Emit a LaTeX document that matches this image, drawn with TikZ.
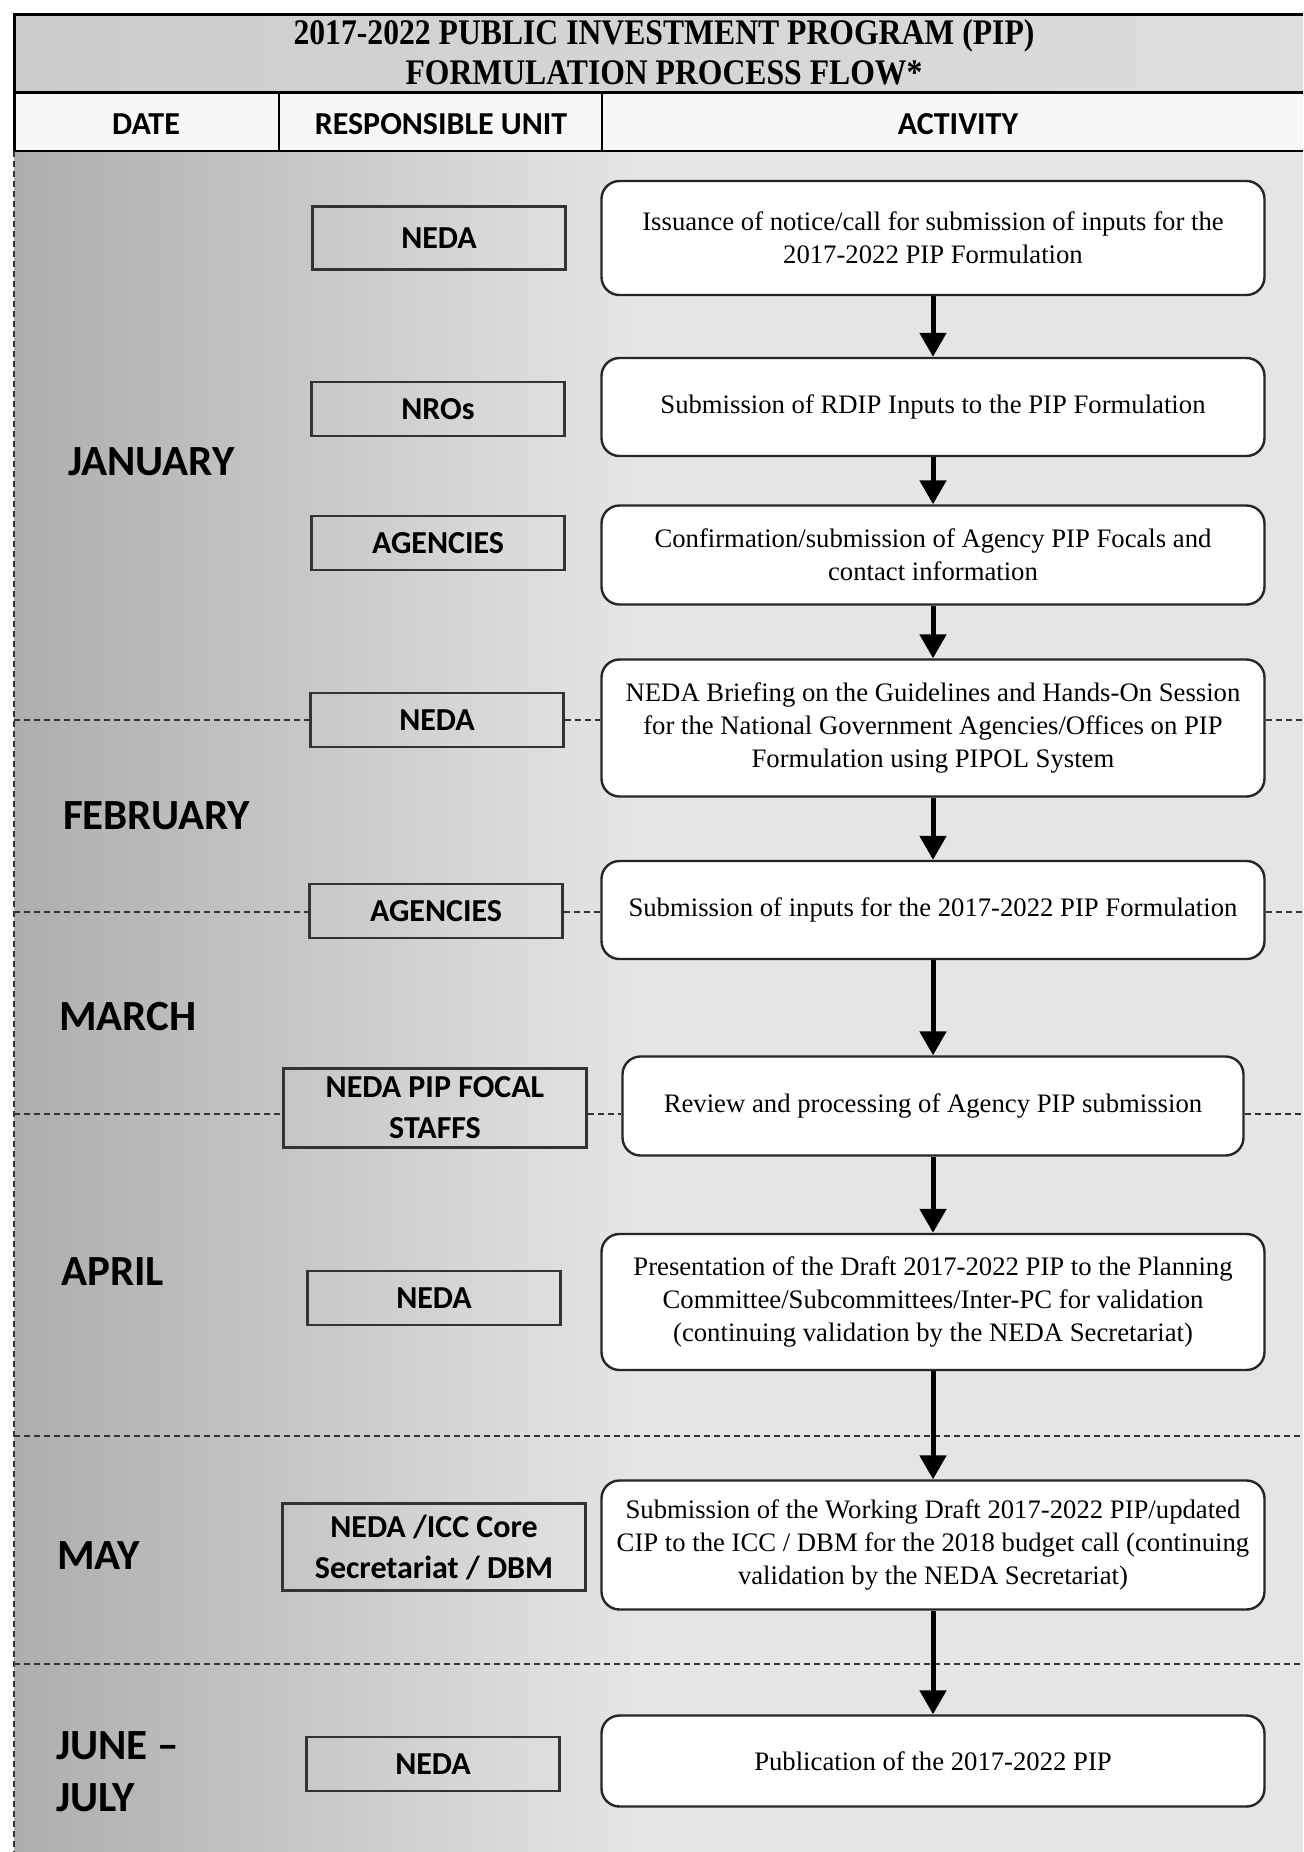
\documentclass[tikz,border=0pt]{standalone}
\usepackage{fontspec}
\setmainfont{Liberation Serif}
\newfontfamily\actfont{Liberation Serif}
\newfontfamily\labelfont{Carlito}
\newfontfamily\titlefont[FakeStretch=0.88]{Liberation Serif}
\usetikzlibrary{arrows.meta,positioning}

\tikzset{
  unitbox/.style={draw=black!80, line width=1.2pt, minimum width=126.5pt, minimum height=27pt,
    font=\labelfont\bfseries\fontsize{16}{20.5}\selectfont, align=center, inner sep=0pt},
  actbox/.style={draw=black!85, fill=white, rounded corners=9pt, line width=1.2pt,
    minimum width=331.5pt, font=\actfont\fontsize{13.35}{16.5}\selectfont, align=center, inner sep=2pt},
  month/.style={anchor=west, font=\labelfont\bfseries\fontsize{21.5}{26}\selectfont},
  colhead/.style={font=\labelfont\bfseries\fontsize{16}{19}\selectfont},
  flow/.style={line width=2.5pt, -{Triangle[width=13pt,length=12pt]}},
  sep/.style={dashed, dash pattern=on 3pt off 2pt, line width=0.7pt, black!80},
}

\begin{document}
\begin{tikzpicture}[x=.5pt,y=-.5pt]
\useasboundingbox (0,0) rectangle (1303,1852);
% background
\fill[white] (0,0) rectangle (1303,1852);
\shade[left color=black!32, right color=black!10] (14,151) rectangle (640,1852);
\fill[black!10] (639,151) rectangle (1303,1852);
\shade[left color=black!20, right color=black!13] (14,14) rectangle (1303,92);
\fill[black!3] (14,92) rectangle (1303,151);
% header
\draw[line width=1.5pt] (1303,14) -- (14,14) -- (14,151);
\draw[line width=1.5pt] (14,92) -- (1303,92);
\draw[line width=1.2pt] (14,151) -- (1303,151);
\draw[line width=1pt] (279,92) -- (279,151) (602,92) -- (602,151);
\node[font=\titlefont\bfseries\fontsize{18}{20}\selectfont, align=center] (title) at (664,52)
  {2017-2022 PUBLIC INVESTMENT PROGRAM (PIP)\\FORMULATION PROCESS FLOW*};
\node[colhead] (hdate) at (146,124) {DATE};
\node[colhead] (hunit) at (441,124) {RESPONSIBLE UNIT};
\node[colhead] (hact) at (958,124) {ACTIVITY};
\draw[sep] (14,151) -- (14,1852);

% months
\node[month] (jan) at (61,462) {JANUARY};
\node[month] (feb) at (56,816) {FEBRUARY};
\node[month] (mar) at (52,1017) {MARCH};
\node[month] (apr) at (54,1272) {APRIL};
\node[month] (may) at (50,1556) {MAY};
\node[month] (jun) at (49,1746) {JUNE –};
\node[month] (jul) at (49,1798) {JULY};

% separators
\coordinate (s1) at (14,720);
\coordinate (s2) at (14,912);
\coordinate (s3) at (14,1114);
\coordinate (s4) at (14,1436);
\coordinate (s5) at (14,1664);

% responsible units
\node[unitbox, minimum height=31.5pt] (u1) at (439,238) {NEDA};
\node[unitbox] (u2) at (438,409) {NROs};
\node[unitbox] (u3) at (438,543) {AGENCIES};
\node[unitbox] (u4) at (437,720) {NEDA};
\node[unitbox] (u5) at (436,911) {AGENCIES};
\node[unitbox, minimum width=151.5pt, minimum height=39.5pt] (u6) at (435,1108) {NEDA PIP FOCAL\\STAFFS};
\node[unitbox] (u7) at (434,1298) {NEDA};
\node[unitbox, minimum width=151.5pt, minimum height=43.5pt] (u8) at (434,1547) {NEDA /ICC Core\\Secretariat / DBM};
\node[unitbox] (u9) at (433,1764) {NEDA};

% activities
\node[actbox, minimum height=57pt] (a1) at (933,238)
  {Issuance of notice/call for submission of inputs for the\\2017-2022 PIP Formulation};
\node[actbox, minimum height=49pt] (a2) at (933,407)
  {Submission of RDIP Inputs to the PIP Formulation};
\node[actbox, minimum height=49.5pt] (a3) at (933,555)
  {Confirmation/submission of Agency PIP Focals and\\contact information};
\node[actbox, minimum height=68.5pt] (a4) at (933,728)
  {NEDA Briefing on the Guidelines and Hands-On Session\\for the National Government Agencies/Offices on PIP\\Formulation using PIPOL System};
\node[actbox, minimum height=49pt] (a5) at (933,910)
  {Submission of inputs for the 2017-2022 PIP Formulation};
\node[actbox, minimum height=49.5pt, minimum width=310.5pt] (a6) at (933,1106)
  {Review and processing of Agency PIP submission};
\node[actbox, minimum height=68pt] (a7) at (933,1302)
  {Presentation of the Draft 2017-2022 PIP to the Planning\\Committee/Subcommittees/Inter-PC for validation\\(continuing validation by the NEDA Secretariat)};
\node[actbox, minimum height=64.5pt] (a8) at (933,1545)
  {Submission of the Working Draft 2017-2022 PIP/updated\\CIP to the ICC / DBM for the 2018 budget call (continuing\\validation by the NEDA Secretariat)};
\node[actbox, minimum height=45.5pt] (a9) at (933,1761)
  {Publication of the 2017-2022 PIP};

% dashed month borders
\draw[sep] (s1) -- (s1 -| u4.west) (s1 -| u4.east) -- (s1 -| a4.west) (s1 -| a4.east) -- (s1 -| 1303,0);
\draw[sep] (s2) -- (s2 -| u5.west) (s2 -| u5.east) -- (s2 -| a5.west) (s2 -| a5.east) -- (s2 -| 1303,0);
\draw[sep] (s3) -- (s3 -| u6.west) (s3 -| u6.east) -- (s3 -| a6.west) (s3 -| a6.east) -- (s3 -| 1303,0);
\draw[sep] (s4) -- (s4 -| 1303,0);
\draw[sep] (s5) -- (s5 -| 1303,0);

% flow
\foreach \i/\j in {1/2,2/3,3/4,4/5,5/6,6/7,7/8,8/9}
  \draw[flow] (a\i.south) -- (a\j.north);
\end{tikzpicture}
\end{document}
